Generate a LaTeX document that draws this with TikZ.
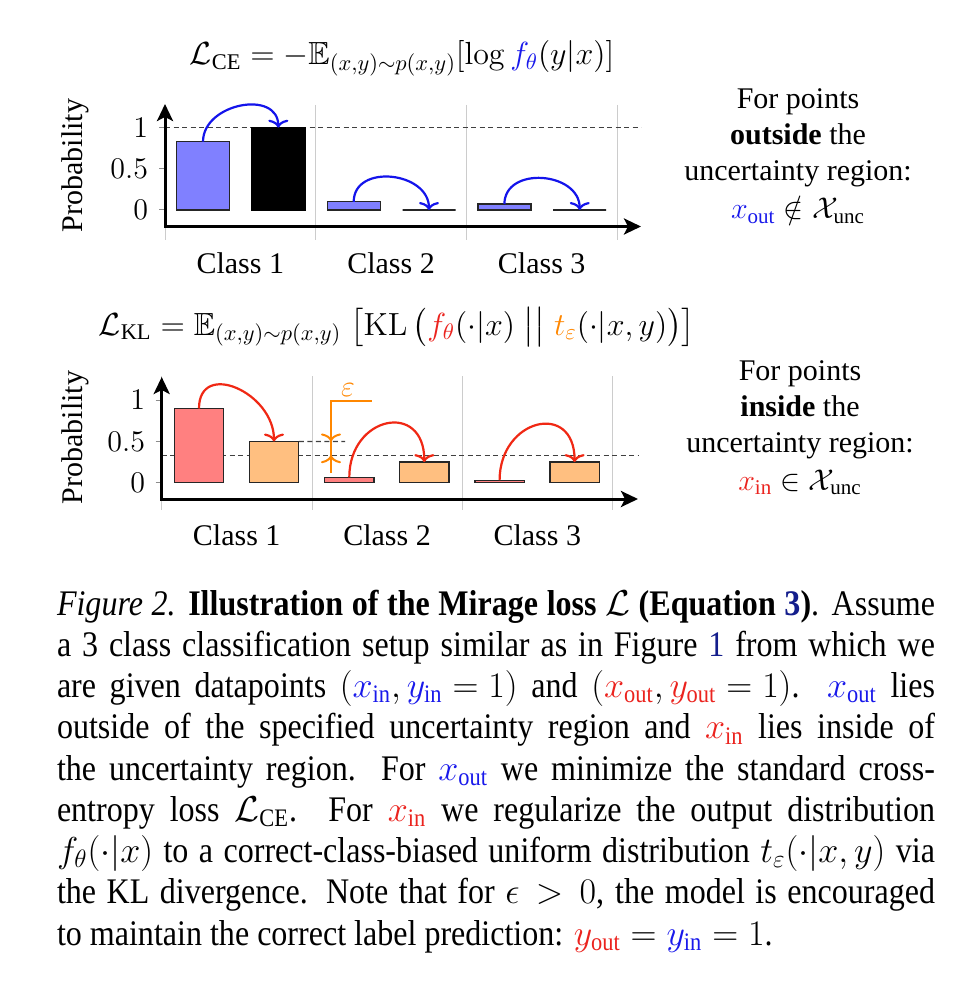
\RequirePackage{fix-cm}
\documentclass[tikz,border=0pt]{standalone}
\usepackage{amsmath,amssymb}
\usepackage[no-math]{fontspec}
\setmainfont{Liberation Serif}
\newfontfamily\capfam{Liberation Serif}[FakeStretch=0.89]
\usetikzlibrary{arrows.meta}
\definecolor{barblue}{RGB}{128,128,255}
\definecolor{barred}{RGB}{255,128,128}
\definecolor{barorange}{RGB}{255,191,128}
\definecolor{arrblue}{RGB}{20,20,235}
\definecolor{arrred}{RGB}{240,40,20}
\definecolor{eorange}{RGB}{255,135,0}
\definecolor{linkblue}{RGB}{20,30,140}
\definecolor{txtblue}{RGB}{25,25,235}
\definecolor{txtred}{RGB}{235,35,30}
\newcommand\plotfont{\fontsize{15pt}{18pt}\selectfont}
\newcommand\formfont{\fontsize{16pt}{18pt}\selectfont}
\newcommand\capfont{\capfam\fontsize{18pt}{20pt}\selectfont}
\begin{document}
\begin{tikzpicture}[x=0.5pt,y=-0.5pt,
  every node/.style={inner sep=0pt, outer sep=0pt},
  barT/.style={draw=black!85, line width=0.7pt, anchor=south, minimum width=26.5pt},
  barB/.style={draw=black!85, line width=0.7pt, anchor=south, minimum width=24.75pt},
  gridln/.style={draw=black!20, line width=0.5pt},
  tickln/.style={draw=black!45, line width=0.5pt},
  dashln/.style={draw=black!75, line width=0.6pt, dash pattern=on 2.5pt off 1.75pt},
  axisln/.style={line width=1.5pt, {Stealth[length=8.5pt,width=8pt,inset=2pt]}-{Stealth[length=8.5pt,width=8pt,inset=2pt]}},
  arrB/.style={draw=arrblue, line width=1.1pt, -{Computer Modern Rightarrow[length=4pt,width=10pt]}},
  arrR/.style={draw=arrred, line width=1.1pt, -{Computer Modern Rightarrow[length=4pt,width=10pt]}},
  epsl/.style={draw=eorange, line width=1pt},
  epsa/.style={draw=eorange, line width=1pt, -{Computer Modern Rightarrow[length=4pt,width=10pt]}},
  ticklab/.style={anchor=east, font=\plotfont},
  cls/.style={anchor=base, font=\plotfont},
  ylab/.style={rotate=90, font=\plotfont},
  side/.style={anchor=base, font=\plotfont},
  formula/.style={anchor=base, font=\formfont},
  capl/.style={anchor=base west, font=\capfont}
]
\useasboundingbox[fill=white] (0,0) rectangle (965,1000);

%================ TOP PLOT ================
\node[formula] (fce) at (402,65)
  {$\mathcal{L}_{\text{CE}} = -\mathbb{E}_{(x,y)\sim p(x,y)}[\log {\color{txtblue}f_{\theta}}(y|x)]$};
\node[ylab] (probT) at (75,165.5) {Probability};
% grid lines
\foreach \gx in {165,315.7,466.4,617.1} \draw[gridln] (\gx,105) -- (\gx,240);
% ticks
\foreach \ty in {210,168.85,127.7} \draw[tickln] (159,\ty) -- (165,\ty);
\node[ticklab] (tt0) at (148,210) {$0$};
\node[ticklab] (tt5) at (148,168.85) {$0.5$};
\node[ticklab] (tt1) at (148,127.7) {$1$};
% dashed line at 1
\coordinate (dT1a) at (165,127.7);
\coordinate (dT1b) at (641,127.7);
\draw[dashln] (dT1a) -- (dT1b);
% bars
\node[barT, fill=barblue, minimum height=34.15pt] (t1a) at (203,210) {};
\node[barT, fill=black, draw=black, minimum height=41.15pt] (t1b) at (278.3,210) {};
\node[barT, fill=barblue, minimum height=4.1pt] (t2a) at (353.7,210) {};
\node[barT, minimum height=0pt] (t2b) at (429,210) {};
\node[barT, fill=barblue, minimum height=2.9pt] (t3a) at (504.4,210) {};
\node[barT, minimum height=0pt] (t3b) at (579.7,210) {};
% arrows
\draw[arrB] (t1a.north) .. controls +(0,-38.5) and +(0,-38.5) .. (t1b.north);
\draw[arrB] (t2a.north) .. controls +(0,-38.5) and +(0,-38.5) .. (t2b.north);
\draw[arrB] (t3a.north) .. controls +(0,-38.5) and +(0,-38.5) .. (t3b.north);
% axes
\coordinate (aT1) at (165,104);
\coordinate (aT0) at (165,226.5);
\coordinate (aT2) at (641,226.5);
\draw[axisln] (aT1) -- (aT0) -- (aT2);
% class labels
\node[cls] (cT1) at (240.3,273) {Class 1};
\node[cls] (cT2) at (391,273) {Class 2};
\node[cls] (cT3) at (541.7,273) {Class 3};
% side text
\node[side] (sT1) at (798,109) {For points};
\node[side] (sT2) at (798,145) {\textbf{outside} the};
\node[side] (sT3) at (798,181) {uncertainty region:};
\node[side] (sT4) at (798,219) {${\color{txtblue}x_{\text{out}}} \notin \mathcal{X}_{\text{unc}}$};

%================ BOTTOM PLOT ================
\node[formula] (fkl) at (397,335)
  {$\mathcal{L}_{\text{KL}} = \mathbb{E}_{(x,y)\sim p(x,y)}\;\bigl[\mathrm{KL}\,\bigl({\color{txtred}f_{\theta}}(\cdot|x)\;\big|\big|\;{\color{eorange}t_{\varepsilon}}(\cdot|x,y)\bigr)\bigr]$};
\node[ylab] (probB) at (75,437.5) {Probability};
\foreach \gx in {161.7,312,462.3,612.6} \draw[gridln] (\gx,376) -- (\gx,510);
\foreach \ty in {482.7,441.45,400.2} \draw[tickln] (155.7,\ty) -- (161.7,\ty);
\node[ticklab] (tb0) at (145,482.7) {$0$};
\node[ticklab] (tb5) at (145,441.45) {$0.5$};
\node[ticklab] (tb1) at (145,400.2) {$1$};
\coordinate (dB3a) at (161.7,455.2);
\coordinate (dB3b) at (638,455.2);
\draw[dashln] (dB3a) -- (dB3b);
% bars
\node[barB, fill=barred, minimum height=37.1pt] (b1a) at (199,482.7) {};
\node[barB, fill=barorange, minimum height=20.6pt] (b1b) at (274,482.7) {};
\node[barB, fill=barred, minimum height=2.7pt] (b2a) at (349.3,482.7) {};
\node[barB, fill=barorange, minimum height=10.3pt] (b2b) at (424.3,482.7) {};
\node[barB, fill=barred, minimum height=1.25pt] (b3a) at (499.6,482.7) {};
\node[barB, fill=barorange, minimum height=10.3pt] (b3b) at (574.6,482.7) {};
% dashed at 0.5
\coordinate (dB5b) at (345,441.45);
\draw[dashln] (b1b.north east) -- (dB5b);
% arrows
\draw[arrR] (b1a.north) .. controls +(0,-49) and +(0,-49) .. (b1b.north);
\draw[arrR] (b2a.north) .. controls +(0,-61.5) and +(0,-61.5) .. (b2b.north);
\draw[arrR] (b3a.north) .. controls +(0,-61.5) and +(0,-61.5) .. (b3b.north);
% epsilon bracket
\coordinate (ea) at (331,400.5);
\coordinate (eb) at (371.7,400.5);
\coordinate (ec) at (331,441.45);
\coordinate (ed) at (331,473);
\coordinate (ee) at (331,455.2);
\draw[epsl] (eb) -- (ea) -- (ed);
\draw[epsa] (ea) -- (ec);
\draw[epsa] (ed) -- (ee);
\node[anchor=base, font=\plotfont, text=eorange] (eps) at (348,396.5) {$\varepsilon$};
% axes
\coordinate (aB1) at (161.7,377);
\coordinate (aB0) at (161.7,499);
\coordinate (aB2) at (638,499);
\draw[axisln] (aB1) -- (aB0) -- (aB2);
\node[cls] (cB1) at (236.7,545) {Class 1};
\node[cls] (cB2) at (387,545) {Class 2};
\node[cls] (cB3) at (537.3,545) {Class 3};
\node[side] (sB1) at (800,380) {For points};
\node[side] (sB2) at (800,416) {\textbf{inside} the};
\node[side] (sB3) at (800,452) {uncertainty region:};
\node[side] (sB4) at (800,490) {${\color{txtred}x_{\text{in}}} \in \mathcal{X}_{\text{unc}}$};

%================ CAPTION ================
\node[capl] (L1) at (57,615) {\makebox[439pt][s]{\textit{Figure 2.} \textbf{Illustration of the Mirage loss $\mathcal{L}$ (Equation {\color{linkblue}3})}. Assume}};
\node[capl] (L2) at (57,656.25) {\makebox[439pt][s]{a 3 class classification setup similar as in Figure {\color{linkblue}1} from which we}};
\node[capl] (L3) at (57,697.5) {\makebox[439pt][s]{are given datapoints $\left({\color{txtblue}x_{\text{in}}}, {\color{txtblue}y_{\text{in}}} = 1\right)$ and $\left({\color{txtred}x_{\text{out}}}, {\color{txtred}y_{\text{out}}} = 1\right)$. ${\color{txtblue}x_{\text{out}}}$ lies}};
\node[capl] (L4) at (57,738.75) {\makebox[439pt][s]{outside of the specified uncertainty region and ${\color{txtred}x_{\text{in}}}$ lies inside of}};
\node[capl] (L5) at (57,780) {\makebox[439pt][s]{the uncertainty region. For ${\color{txtblue}x_{\text{out}}}$ we minimize the standard cross-}};
\node[capl] (L6) at (57,821.25) {\makebox[439pt][s]{entropy loss $\mathcal{L}_{\text{CE}}$. For ${\color{txtred}x_{\text{in}}}$ we regularize the output distribution}};
\node[capl] (L7) at (57,862.5) {\makebox[439pt][s]{$f_{\theta}(\cdot|x)$ to a correct-class-biased uniform distribution $t_{\varepsilon}(\cdot|x,y)$ via}};
\node[capl] (L8) at (57,903.75) {\makebox[439pt][s]{the KL divergence. Note that for $\epsilon>0$, the model is encouraged}};
\node[capl] (L9) at (57,945) {to maintain the correct label prediction: ${\color{txtred}y_{\text{out}}} = {\color{txtblue}y_{\text{in}}} = 1$.};
\end{tikzpicture}
\end{document}
